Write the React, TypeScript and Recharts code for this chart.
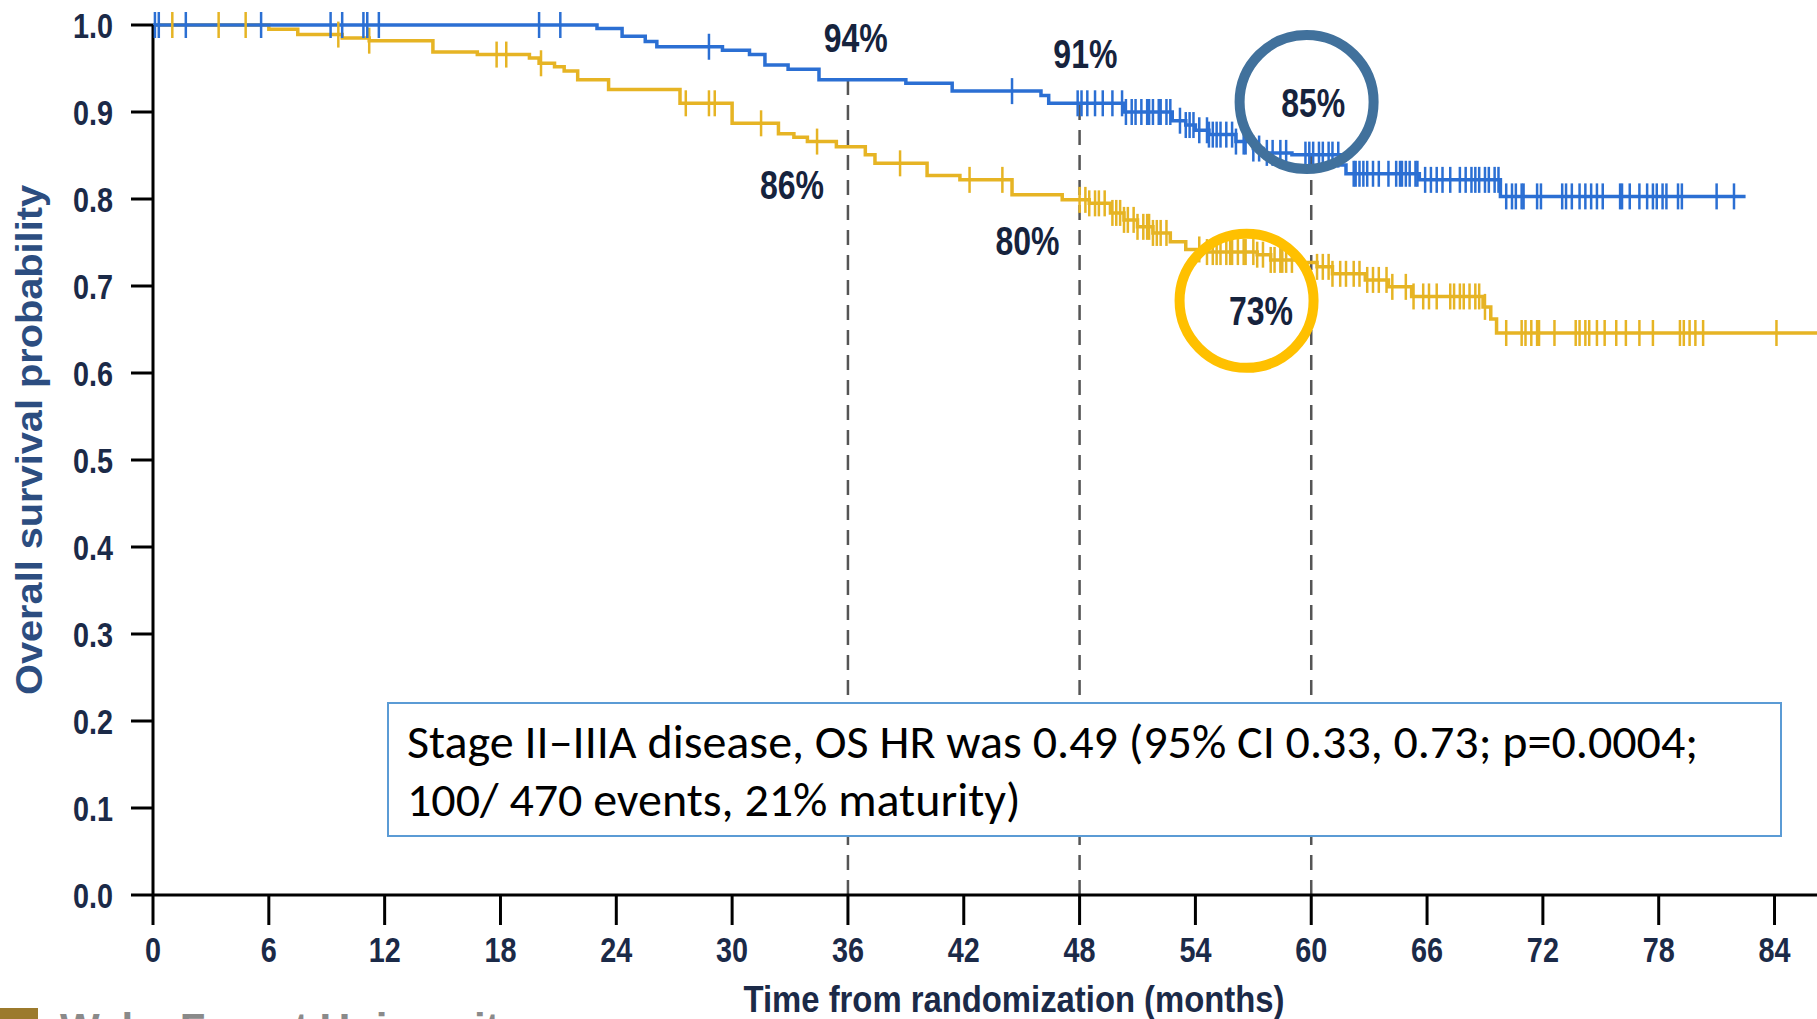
import React from 'react'
import {
  ComposedChart,
  Line,
  Scatter,
  XAxis,
  YAxis,
  ReferenceLine,
  ReferenceDot,
  Label,
} from 'recharts'

const xTicks = [0, 6, 12, 18, 24, 30, 36, 42, 48, 54, 60, 66, 72, 78, 84]
const yTicks = [0, 0.1, 0.2, 0.3, 0.4, 0.5, 0.6, 0.7, 0.8, 0.9, 1.0]

// Kaplan-Meier steps: [month, survival]
const blueSteps: [number, number][] = [
  [0, 1.0], [23.0, 0.996], [24.3, 0.987], [25.5, 0.981], [26.1, 0.975],
  [29.5, 0.971], [30.9, 0.966], [31.7, 0.954], [32.9, 0.949], [34.5, 0.937],
  [39.0, 0.933], [41.4, 0.924], [46.0, 0.919], [46.4, 0.91], [50.3, 0.9],
  [52.8, 0.89], [53.5, 0.885], [54.0, 0.879], [54.7, 0.874], [56.1, 0.866],
  [57.0, 0.858], [57.5, 0.853], [59.0, 0.851], [61.5, 0.839], [61.8, 0.829],
  [65.6, 0.822], [69.8, 0.803], [82.5, 0.803],
]

const yellowSteps: [number, number][] = [
  [0, 1.0], [6.0, 0.995], [7.5, 0.989], [9.8, 0.985], [11.2, 0.982],
  [14.5, 0.969], [16.8, 0.966], [19.5, 0.962], [20.0, 0.956], [20.8, 0.952],
  [21.3, 0.947], [22.0, 0.937], [23.6, 0.926], [27.3, 0.91], [30.0, 0.887],
  [32.4, 0.875], [33.2, 0.871], [33.9, 0.866], [35.4, 0.86], [36.9, 0.851],
  [37.4, 0.841], [40.1, 0.827], [41.8, 0.822], [44.5, 0.805], [47.1, 0.799],
  [48.5, 0.795], [49.6, 0.784], [50.3, 0.776], [51.0, 0.768], [51.8, 0.761],
  [52.7, 0.751], [53.5, 0.742], [54.5, 0.739], [57.2, 0.736], [57.9, 0.73],
  [59.5, 0.727], [60.3, 0.722], [61.1, 0.714], [62.8, 0.707], [64.0, 0.699],
  [65.2, 0.688], [68.9, 0.676], [69.3, 0.662], [69.6, 0.646], [86.2, 0.646],
]

// censor marks (months)
const blueCensored = [
  0.1, 0.3, 1.7, 5.6, 9.2, 9.8, 10.9, 11.1, 11.7, 20.0, 21.1, 28.8, 44.5,
  47.9, 48.1, 48.4, 48.8, 49.2, 49.7, 50.2, 50.4, 50.7, 50.9, 51.2, 51.5, 51.6,
  51.8, 52.1, 52.2, 52.5, 52.7, 53.2, 53.5, 53.7, 53.9, 54.2, 54.6, 54.7, 54.9,
  55.1, 55.3, 55.6, 55.9, 56.1, 56.5, 56.6, 57.0, 57.3, 57.7, 58.0, 58.4, 58.7,
  59.7, 59.9, 60.1, 60.4, 60.6, 60.9, 61.1, 61.4, 62.2, 62.3, 62.5, 62.7, 62.9,
  63.2, 63.5, 64.0, 64.4, 64.6, 64.7, 64.9, 65.1, 65.4, 65.5, 65.9, 66.2, 66.5,
  66.8, 67.2, 67.7, 68.0, 68.3, 68.5, 68.7, 69.0, 69.2, 69.5, 69.7, 70.1, 70.4,
  70.6, 70.9, 71.0, 71.7, 71.9, 73.0, 73.2, 73.5, 73.9, 74.2, 74.5, 74.8, 75.1,
  76.0, 76.1, 76.5, 77.0, 77.4, 77.7, 77.9, 78.2, 78.4, 79.0, 79.2, 81.0, 81.9,
]

const yellowCensored = [
  1.0, 3.4, 4.8, 9.6, 11.2, 17.8, 18.3, 20.1, 27.6, 28.8, 29.1, 31.5, 34.4,
  38.7, 42.3, 44.0, 48.0, 48.3, 48.5, 48.8, 49.0, 49.3, 49.7, 49.9, 50.1, 50.3,
  50.5, 50.8, 51.0, 51.3, 51.5, 51.6, 51.8, 52.0, 52.2, 52.5, 54.2, 54.6, 54.9,
  55.1, 55.3, 55.6, 55.8, 55.9, 56.2, 56.5, 56.6, 57.0, 57.2, 57.5, 57.9, 58.1,
  58.4, 58.5, 58.7, 59.0, 60.3, 60.6, 60.9, 61.1, 61.5, 61.8, 62.2, 62.5, 62.9,
  63.2, 63.5, 63.9, 64.2, 64.9, 65.3, 65.8, 66.1, 66.5, 67.2, 67.4, 67.7, 67.9,
  68.2, 68.5, 68.7, 69.0, 70.1, 70.9, 71.1, 71.4, 71.7, 71.8, 72.6, 73.7, 73.9,
  74.2, 74.4, 74.8, 75.2, 75.8, 76.3, 77.0, 77.7, 79.1, 79.3, 79.6, 79.9, 80.3,
  84.1,
]

// landmark months and blue survival at each (dashed guide tops)
const landmarkMonths = [36, 48, 60]
const landmarkTops = [0.94, 0.91, 0.85]

// percentage callouts [month, survival, text]
const pctLabels: [number, number, string][] = [
  [36.4, 0.985, '94%'],
  [48.3, 0.966, '91%'],
  [33.1, 0.816, '86%'],
  [45.3, 0.752, '80%'],
  [60.1, 0.91, '85%'],
  [57.4, 0.671, '73%'],
]

const BLUE = '#2b6fd3'
const GOLD = '#e6b424'
const NAVY = '#1b2a48'
const SANS = "'Liberation Sans', Arial, sans-serif"

const toRows = (steps: [number, number][]) => steps.map(([t, s]) => ({ t, s }))

const survAt = (steps: [number, number][], t: number) => {
  let s = steps[0][1]
  for (const [tt, ss] of steps) if (tt <= t) s = ss
  return s
}

const censorRows = (times: number[], steps: [number, number][]) =>
  times.map((t) => ({ t, s: survAt(steps, t) }))

const tickMark = (color: string) => (props: any) => {
  const { cx, cy } = props
  return <line x1={cx} x2={cx} y1={cy - 13} y2={cy + 13} stroke={color} strokeWidth={2.5} />
}

// bold text squeezed sideways, like Arial Narrow Bold
const Narrow = ({ x, y, size, anchor, baseline, dy, fill, children }: any) => (
  <g transform={`translate(${x},${y})`}>
    <text
      transform="scale(0.8,1)"
      textAnchor={anchor}
      dominantBaseline={baseline}
      dy={dy}
      fill={fill}
      fontSize={size}
      fontWeight={700}
      fontFamily={SANS}
    >
      {children}
    </text>
  </g>
)

const XTick = (p: any) => (
  <Narrow x={p.x} y={p.y} size={36} anchor="middle" baseline="auto" dy="0.74em" fill={NAVY}>
    {p.payload.value}
  </Narrow>
)

const YTick = (p: any) => (
  <Narrow x={p.x} y={p.y} size={36} anchor="end" baseline="central" fill={NAVY}>
    {Number(p.payload.value).toFixed(1)}
  </Narrow>
)

export default function App() {
  return (
    <div style={{ position: 'absolute', left: 0, top: 0, width: 1817, height: 1019, background: '#fff', overflow: 'hidden' }}>
      <ComposedChart width={1817} height={1019} margin={{ top: 25, right: 0, bottom: 0, left: 0 }}>
        <XAxis
          type="number"
          dataKey="t"
          domain={[0, 86.2]}
          ticks={xTicks}
          interval={0}
          allowDataOverflow
          height={124}
          tickSize={30}
          tickMargin={10}
          axisLine={{ stroke: '#000', strokeWidth: 3 }}
          tickLine={{ stroke: '#000', strokeWidth: 3 }}
          tick={XTick}
        >
          <Label
            content={({ viewBox }: any) => (
              <text
                x={viewBox.x + viewBox.width / 2 + 29}
                y={viewBox.y + 104}
                textAnchor="middle"
                dominantBaseline="central"
                fill={NAVY}
                fontSize={36}
                fontWeight={700}
                fontFamily={SANS}
                textLength={541}
                lengthAdjust="spacingAndGlyphs"
              >
                Time from randomization (months)
              </text>
            )}
          />
        </XAxis>
        <YAxis
          type="number"
          dataKey="s"
          domain={[0, 1]}
          ticks={yTicks}
          interval={0}
          width={153}
          tickSize={22}
          tickMargin={18}
          axisLine={{ stroke: '#000', strokeWidth: 3 }}
          tickLine={{ stroke: '#000', strokeWidth: 3 }}
          tick={YTick}
        >
          <Label
            content={({ viewBox }: any) => {
              const cx = 29
              const cy = viewBox.y + viewBox.height / 2 - 20
              return (
                <text
                  x={cx}
                  y={cy}
                  transform={`rotate(-90 ${cx} ${cy})`}
                  textAnchor="middle"
                  dominantBaseline="central"
                  fill="#2c4d80"
                  fontSize={36}
                  fontWeight={700}
                  fontFamily={SANS}
                  textLength={510}
                  lengthAdjust="spacingAndGlyphs"
                >
                  Overall survival probability
                </text>
              )
            }}
          />
        </YAxis>

        {landmarkMonths.map((m, i) => (
          <ReferenceLine
            key={m}
            segment={[{ x: m, y: 0 }, { x: m, y: landmarkTops[i] }]}
            stroke="#555"
            strokeWidth={2.5}
            strokeDasharray="15 10"
          />
        ))}

        <Line
          data={toRows(yellowSteps)}
          dataKey="s"
          type="stepAfter"
          stroke={GOLD}
          strokeWidth={3.5}
          dot={false}
          isAnimationActive={false}
        />
        <Line
          data={toRows(blueSteps)}
          dataKey="s"
          type="stepAfter"
          stroke={BLUE}
          strokeWidth={3.5}
          dot={false}
          isAnimationActive={false}
        />
        <Scatter data={censorRows(yellowCensored, yellowSteps)} dataKey="s" shape={tickMark(GOLD)} isAnimationActive={false} />
        <Scatter data={censorRows(blueCensored, blueSteps)} dataKey="s" shape={tickMark(BLUE)} isAnimationActive={false} />

        <ReferenceDot x={59.76} y={0.9115} r={67} fill="none" stroke="#41719c" strokeWidth={10} />
        <ReferenceDot x={56.65} y={0.683} r={67} fill="none" stroke="#ffc000" strokeWidth={10} />

        {pctLabels.map(([t, s, text]) => (
          <ReferenceDot
            key={text}
            x={t}
            y={s}
            r={0}
            shape={(p: any) => (
              <Narrow x={p.cx} y={p.cy} size={40} anchor="middle" baseline="central" fill="#16233d">
                {text}
              </Narrow>
            )}
          />
        ))}
      </ComposedChart>

      <div
        style={{
          position: 'absolute',
          left: 387,
          top: 702,
          width: 1395,
          height: 135,
          boxSizing: 'border-box',
          border: '2px solid #5b9bd5',
          background: '#fff',
          padding: '9px 0 0 18px',
          fontFamily: 'Carlito, Calibri, Lato, sans-serif',
          fontSize: 48,
          lineHeight: '58px',
          color: '#000',
          whiteSpace: 'nowrap',
        }}
      >
        <div>Stage II–IIIA disease, OS HR was 0.49 (95% CI 0.33, 0.73; p=0.0004;</div>
        <div>100/ 470 events, 21% maturity)</div>
      </div>

      <div style={{ position: 'absolute', left: 0, top: 1008, width: 38, height: 20, background: '#9c7a2c' }} />
      <div
        style={{
          position: 'absolute',
          left: 60,
          top: 1005,
          fontFamily: SANS,
          fontWeight: 700,
          fontSize: 42,
          color: '#8a8a8a',
          whiteSpace: 'nowrap',
        }}
      >
        Wake Forest University
      </div>
    </div>
  )
}
